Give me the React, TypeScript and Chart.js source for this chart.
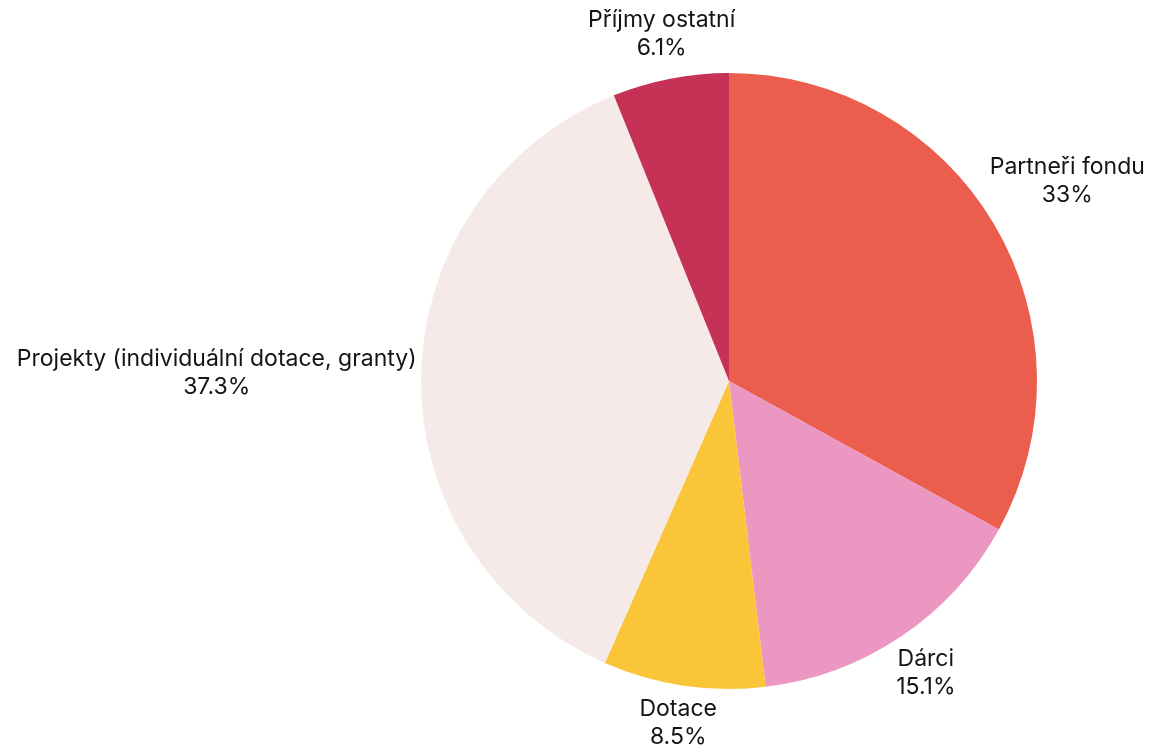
import React, { useEffect, useRef } from "react";
import { Chart, registerables } from "chart.js";

Chart.register(...registerables);

const categories = ["Partneři fondu", "Dárci", "Dotace", "Projekty (individuální dotace, granty)", "Příjmy ostatní"];
const shares = [33, 15.1, 8.5, 37.3, 6.1];
const sliceColors = ["#EB5E4E", "#EB97C2", "#FBC53A", "#F6EAE9", "#C53256"];

const FONT = "23px Inter, 'Noto Sans', sans-serif";
const LINE_H = 28;
const LABEL_OFFSET = 4;

const outsideLabels = {
  id: "outsideLabels",
  afterDatasetsDraw(chart: any) {
    const ctx = chart.ctx;
    const meta = chart.getDatasetMeta(0);
    const labels = chart.data.labels as string[];
    const data = chart.data.datasets[0].data as number[];
    ctx.save();
    ctx.font = FONT;
    ctx.fillStyle = "#141414";
    ctx.textAlign = "center";
    ctx.textBaseline = "middle";
    meta.data.forEach((arc: any, i: number) => {
      const p = arc.getProps(["x", "y", "startAngle", "endAngle", "outerRadius"], true);
      const mid = (p.startAngle + p.endAngle) / 2;
      const dx = Math.cos(mid);
      const dy = Math.sin(mid);
      const lines = [labels[i], `${data[i]}%`];
      const w = Math.max(...lines.map((l) => ctx.measureText(l).width)) / 2;
      const h = (lines.length * LINE_H) / 2;
      const dist = p.outerRadius + LABEL_OFFSET + w * Math.abs(dx) + h * Math.abs(dy);
      const cx = p.x + dx * dist;
      const cy = p.y + dy * dist;
      lines.forEach((l, j) => {
        ctx.fillText(l, cx, cy + (j - (lines.length - 1) / 2) * LINE_H);
      });
    });
    ctx.restore();
  },
};

export default function App() {
  const ref = useRef<HTMLCanvasElement | null>(null);
  useEffect(() => {
    if (!ref.current) return;
    const chart = new Chart(ref.current, {
      type: "pie",
      data: {
        labels: categories,
        datasets: [
          {
            data: shares,
            backgroundColor: sliceColors,
            borderWidth: 0,
          },
        ],
      },
      options: {
        animation: false,
        responsive: true,
        maintainAspectRatio: false,
        layout: { padding: { left: 421, right: 114, top: 73, bottom: 58 } },
        plugins: {
          legend: { display: false },
          tooltip: { enabled: false },
        },
      },
      plugins: [outsideLabels],
    });
    return () => chart.destroy();
  }, []);
  return (
    <div style={{ position: "absolute", left: 0, top: 0, width: 1151, height: 747, background: "#fff" }}>
      <canvas ref={ref} />
    </div>
  );
}
